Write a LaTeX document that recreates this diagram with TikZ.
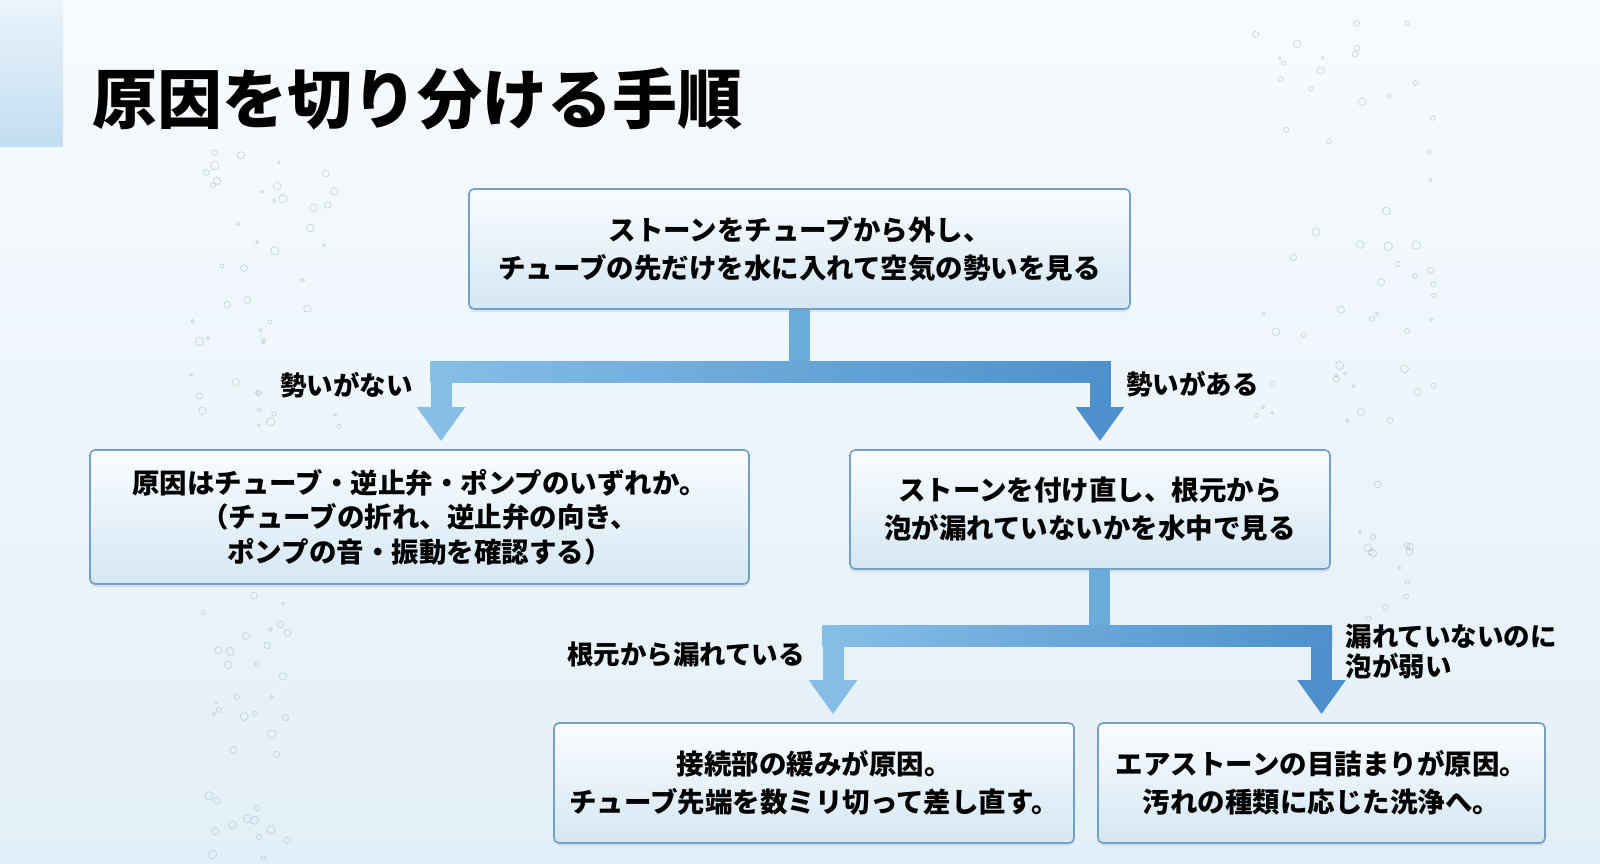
\documentclass[tikz,border=0pt]{standalone}
\usepackage{fontspec}
\setmainfont{Noto Sans CJK JP}
\usetikzlibrary{arrows.meta,calc,shadows}

\definecolor{bgtop}{HTML}{F8FBFE}
\definecolor{bgbot}{HTML}{E3EFF8}
\definecolor{bartop}{HTML}{EAF4FB}
\definecolor{barbot}{HTML}{C2DDF1}
\definecolor{boxtop}{HTML}{FAFCFE}
\definecolor{boxbot}{HTML}{D5E7F4}
\definecolor{boxline}{HTML}{72A0C8}
\definecolor{flowlite}{HTML}{86BEE6}
\definecolor{flowmid}{HTML}{6CACDB}
\definecolor{flowdark}{HTML}{4D90CB}
\definecolor{bubblegray}{HTML}{94ABBD}

\begin{document}
\begin{tikzpicture}[x=1pt,y=-1pt,
    box/.style={draw=boxline, line width=1.6pt, rounded corners=5pt,
      top color=boxtop, bottom color=boxbot, align=center, inner sep=0pt,
      font=\fontsize{27.5}{38}\selectfont\bfseries,
      drop shadow={shadow xshift=0pt, shadow yshift=-3pt, opacity=.15}},
    lbl/.style={font=\fontsize{26.5}{30}\selectfont\bfseries, inner sep=0pt},
    heading/.style={font=\fontsize{65}{70}\selectfont\bfseries, inner sep=0pt},
    flow/.style={line width=21pt, line join=miter},
    flowtip/.style={-{Triangle[width=46pt,length=34pt]}},
    bubble/.style={draw=bubblegray, line width=.6pt, opacity=.5}
  ]
    % background and corner bar
    \shade[top color=bgtop, bottom color=bgbot] (0,0) rectangle (1600,863);
    \useasboundingbox (0,0) rectangle (1600,863);
    \shade[top color=bartop, bottom color=barbot] (0,0) rectangle (63,146);

    % bubbles
    \pgfmathsetseed{17}
    \foreach \cx/\cy/\w/\h/\n in {265/290/150/280/45, 245/725/90/270/36,
                                   1345/210/180/430/55, 1385/560/60/160/14} {
      \foreach \i in {1,...,\n} {
        \pgfmathsetmacro\bx{\cx+\w*rand/2}
        \pgfmathsetmacro\by{\cy+\h*rand/2}
        \pgfmathsetmacro\br{1.3+3*rnd}
        \draw[bubble] (\bx,\by) circle[radius=\br];
      }
    }

    \node[heading, anchor=west] (ttl) at (92,99) {原因を切り分ける手順};

    % boxes
    \node[box, minimum width=661pt, minimum height=120pt] (check) at (799.5,249)
      {ストーンをチューブから外し、\\チューブの先だけを水に入れて空気の勢いを見る};
    \node[box, minimum width=659pt, minimum height=134pt,
      font=\fontsize{27.5}{34.5}\selectfont\bfseries] (lmid) at (419.5,517)
      {原因はチューブ・逆止弁・ポンプのいずれか。\\（チューブの折れ、逆止弁の向き、\\ポンプの音・振動を確認する）};
    \node[box, minimum width=480pt, minimum height=119pt] (rmid) at (1090,509.5)
      {ストーンを付け直し、根元から\\泡が漏れていないかを水中で見る};
    \node[box, minimum width=520pt, minimum height=120pt] (bleft) at (814,783)
      {接続部の緩みが原因。\\チューブ先端を数ミリ切って差し直す。};
    \node[box, minimum width=447pt, minimum height=120pt] (bright) at (1321.5,783)
      {エアストーンの目詰まりが原因。\\汚れの種類に応じた洗浄へ。};

    % first split
    \coordinate (j1) at ($(check.south)+(0,62)$);
    \coordinate (a1) at ($(lmid.north)+(21.5,-8)$);
    \coordinate (b1) at ($(rmid.north)+(10,-8)$);
    \draw[flow, flowmid] (check.south) -- (j1);
    \draw[flow, flowlite, flowtip] (j1) -| (a1);
    \draw[flow, flowdark, flowtip] (j1) -| (b1);
    \shade[left color=flowlite, right color=flowdark]
      ($(a1|-j1)+(-10.5,-10.5)$) rectangle ($(b1|-j1)+(10.5,10.5)$);
    \node[lbl, anchor=east] (lno) at ($(a1|-j1)+(-28,13)$) {勢いがない};
    \node[lbl, anchor=west] (lyes) at ($(b1|-j1)+(26,12)$) {勢いがある};

    % second split
    \coordinate (s2) at ($(rmid.south)+(9.5,0)$);
    \coordinate (j2) at ($(s2)+(0,66)$);
    \coordinate (a2) at ($(bleft.north)+(19,-8)$);
    \coordinate (b2) at ($(bright.north)+(0,-8)$);
    \draw[flow, flowmid] (s2) -- (j2);
    \draw[flow, flowlite, flowtip] (j2) -| (a2);
    \draw[flow, flowdark, flowtip] (j2) -| (b2);
    \shade[left color=flowlite, right color=flowdark]
      ($(a2|-j2)+(-10.5,-10.5)$) rectangle ($(b2|-j2)+(10.5,10.5)$);
    \node[lbl, anchor=east] (lleak) at ($(a2|-j2)+(-28,19)$) {根元から漏れている};
    \node[lbl, anchor=west, align=left] (lweak) at ($(b2|-j2)+(24,16)$)
      {漏れていないのに\\泡が弱い};
\end{tikzpicture}
\end{document}
